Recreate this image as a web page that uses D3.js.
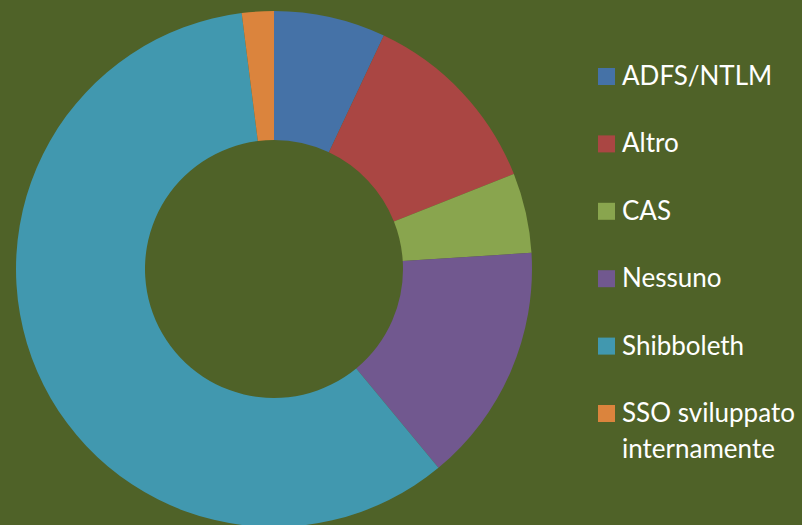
<!DOCTYPE html>
<html>
<head>
<meta charset="utf-8">
<script src="https://cdn.jsdelivr.net/npm/d3@7"></script>
<style>
  html, body { margin: 0; padding: 0; background: #4F6228; }
</style>
</head>
<body>
<script>
const width = 802;
const height = 525;

// data (percent)
const categories = ["ADFS/NTLM", "Altro", "CAS", "Nessuno", "Shibboleth", "SSO sviluppato internamente"];
const values = [7, 12, 5, 15, 59, 2];
const colors = ["#4572A7", "#AA4643", "#89A54E", "#71588F", "#4198AF", "#DB843D"];
const legendLines = [["ADFS/NTLM"], ["Altro"], ["CAS"], ["Nessuno"], ["Shibboleth"], ["SSO sviluppato", "internamente"]];

const cx = 274, cy = 269;
const outerR = 258, innerR = 129;

const svg = d3.select("body").append("svg")
    .attr("width", width)
    .attr("height", height)
    .attr("viewBox", [0, 0, width, height]);

svg.append("rect")
    .attr("width", width)
    .attr("height", height)
    .attr("fill", "#4F6228");

const color = d3.scaleOrdinal().domain(categories).range(colors);

const pie = d3.pie().sort(null).value(d => d.value);
const arc = d3.arc().innerRadius(innerR).outerRadius(outerR);

const data = categories.map((c, i) => ({ name: c, value: values[i] }));

svg.append("g")
    .attr("transform", `translate(${cx},${cy})`)
  .selectAll("path")
  .data(pie(data))
  .join("path")
    .attr("fill", d => color(d.data.name))
    .attr("d", arc);

// legend
const legendX = 598;
const legendY = d3.scalePoint().domain(categories).range([85, 422]);

const item = svg.append("g")
    .attr("font-family", "Lato, 'Open Sans', sans-serif")
    .attr("font-size", 26)
    .attr("fill", "#fff")
  .selectAll("g")
  .data(categories)
  .join("g")
    .attr("transform", d => `translate(${legendX},${legendY(d)})`);

item.append("rect")
    .attr("x", 0)
    .attr("y", -17)
    .attr("width", 17)
    .attr("height", 17)
    .attr("fill", d => color(d));

item.append("text")
    .attr("x", 24)
    .selectAll("tspan")
    .data((d, i) => legendLines[i])
    .join("tspan")
      .attr("x", 24)
      .attr("dy", (d, j) => j === 0 ? 0 : 36)
      .text(d => d);
</script>
</body>
</html>
